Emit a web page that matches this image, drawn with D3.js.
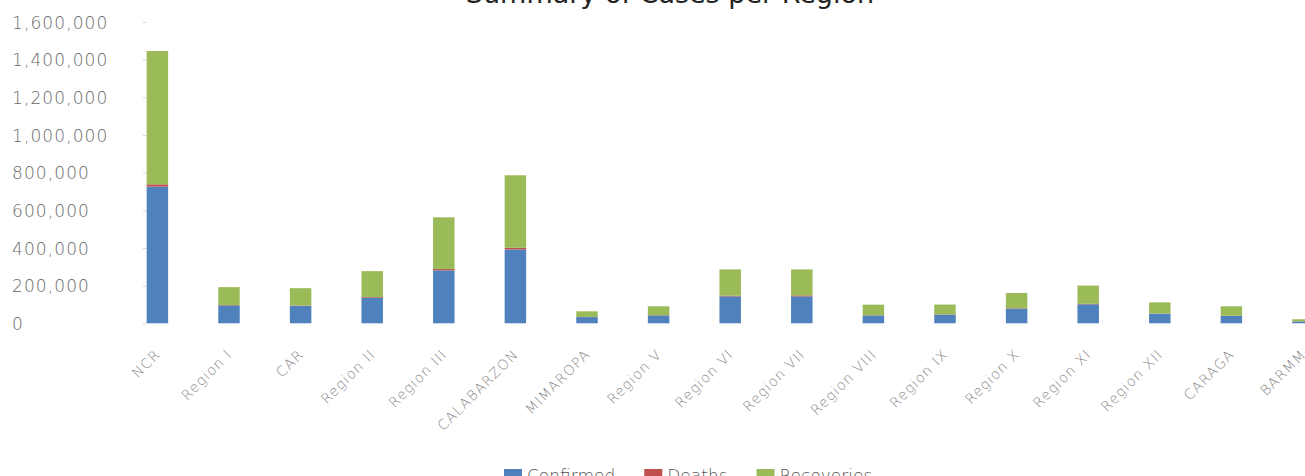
<!DOCTYPE html>
<html>
<head>
<meta charset="utf-8">
<script src="https://cdn.jsdelivr.net/npm/d3@7"></script>
<style>
  body { margin: 0; overflow: hidden; background: white; }
  #d3-container { width: 1305px; height: 476px; }
</style>
</head>
<body>
<div id="d3-container"></div>
<script>
// data
let regions = ["NCR", "Region I", "CAR", "Region II", "Region III", "CALABARZON", "MIMAROPA",
  "Region V", "Region VI", "Region VII", "Region VIII", "Region IX", "Region X", "Region XI",
  "Region XII", "CARAGA", "BARMM"];
let confirmed = [726000, 95000, 93000, 136000, 281000, 392000, 33000, 42000, 143000, 143000,
  42000, 46000, 78000, 101000, 51000, 39000, 10000];
let deaths = [12000, 2000, 1500, 3500, 7000, 9000, 700, 1200, 3500, 5000,
  1000, 1500, 2000, 2500, 1200, 1200, 500];
let recoveries = [708000, 95000, 92000, 137500, 275000, 385000, 30000, 47000, 139500, 138000,
  56000, 52000, 81000, 97000, 59000, 50000, 11000];
let seriesNames = ["Confirmed", "Deaths", "Recoveries"];
let yTicks = [0, 200000, 400000, 600000, 800000, 1000000, 1200000, 1400000, 1600000];

let colors = { Confirmed: "#4f81bd", Deaths: "#c0504d", Recoveries: "#9bbb59" };

let width = 1305, height = 476;

let svg1 = d3.select('#d3-container')
  .append('svg')
  .attr('width', width)
  .attr('height', height)
  .style('background-color', 'white');

// rows for the stack layout
let rows = regions.map(function(r, i) {
  return { region: r, Confirmed: confirmed[i], Deaths: deaths[i], Recoveries: recoveries[i] };
});
let stacked = d3.stack().keys(seriesNames)(rows);

// x scale (runs a bit past the right edge, like the original)
let xScale = d3.scaleBand()
  .domain(regions)
  .range([121.6, 1338.8])
  .paddingInner(0.7)
  .paddingOuter(0.35);

// y scale
let yScale = d3.scaleLinear()
  .domain([0, 1600000])
  .range([323.3, 22]);

// y axis, labels left aligned at the page edge
let yAxis = svg1.append("g")
  .attr("transform", "translate(146,0)")
  .call(d3.axisLeft(yScale).tickValues(yTicks).tickSize(3).tickFormat(d3.format(",")));
yAxis.select(".domain").remove();
yAxis.selectAll(".tick line").attr("stroke", "#d6d6d6");
yAxis.selectAll(".tick text")
  .attr("x", -134)
  .attr("text-anchor", "start")
  .attr("dy", "0.36em")
  .style("font-family", "'DejaVu Sans', sans-serif")
  .style("font-size", "17px")
  .style("font-weight", "200")
  .style("letter-spacing", "1.1px")
  .attr("fill", "#6a6a6a");

// stacked bars
svg1.append("g")
  .selectAll("g")
  .data(stacked)
  .enter().append("g")
  .attr("fill", function(d) { return colors[d.key]; })
  .selectAll("rect")
  .data(function(d) { return d; })
  .enter().append("rect")
  .attr("x", function(d) { return xScale(d.data.region); })
  .attr("y", function(d) { return yScale(d[1]); })
  .attr("width", xScale.bandwidth())
  .attr("height", function(d) { return yScale(d[0]) - yScale(d[1]); });

// x axis with rotated labels
let xAxis = svg1.append("g")
  .attr("transform", "translate(0,323.3)")
  .call(d3.axisBottom(xScale).tickSize(0));
xAxis.select(".domain").remove();
xAxis.selectAll(".tick text")
  .attr("x", 0)
  .attr("y", 0)
  .attr("dy", 0)
  .attr("text-anchor", "end")
  .attr("transform", "translate(4,32) rotate(-45)")
  .style("font-family", "'DejaVu Sans', sans-serif")
  .style("font-size", "14px")
  .style("font-weight", "200")
  .style("letter-spacing", "1.1px")
  .attr("fill", "#8a8a8a");

// title (cut off at the top in the original)
svg1.append("text")
  .attr("x", 670)
  .attr("y", 3)
  .attr("text-anchor", "middle")
  .style("font-family", "'DejaVu Sans', sans-serif")
  .style("font-size", "27px")
  .attr("fill", "#222")
  .text("Summary of Cases per Region");

// legend along the bottom
let legend = svg1.append("g").attr("transform", "translate(504,469)");
let lx = 0;
seriesNames.forEach(function(name) {
  legend.append("rect")
    .attr("x", lx)
    .attr("y", 0)
    .attr("width", 18)
    .attr("height", 17)
    .attr("fill", colors[name]);
  let t = legend.append("text")
    .attr("x", lx + 23)
    .attr("y", 12.5)
    .style("font-family", "'DejaVu Sans', sans-serif")
    .style("font-size", "17px")
    .style("font-weight", "200")
    .attr("fill", "#555")
    .text(name);
  lx += 23 + t.node().getComputedTextLength() + 29;
});
</script>
</body>
</html>
